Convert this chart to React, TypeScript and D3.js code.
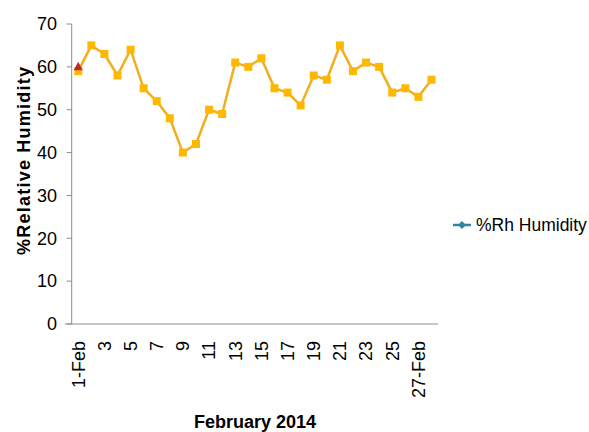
import React from "react";
import * as d3 from "d3";

const categories = [
  "1-Feb","2-Feb","3-Feb","4-Feb","5-Feb","6-Feb","7-Feb","8-Feb","9-Feb","10-Feb",
  "11-Feb","12-Feb","13-Feb","14-Feb","15-Feb","16-Feb","17-Feb","18-Feb","19-Feb","20-Feb",
  "21-Feb","22-Feb","23-Feb","24-Feb","25-Feb","26-Feb","27-Feb","28-Feb",
];
const humidity = [59,65,63,58,64,55,52,48,40,42,50,49,61,60,62,55,54,51,58,57,65,59,61,60,54,55,53,57];
const secondSeriesCats = ["1-Feb"];
const secondSeriesValues = [60];
const tickCats = ["1-Feb","3-Feb","5-Feb","7-Feb","9-Feb","11-Feb","13-Feb","15-Feb","17-Feb","19-Feb","21-Feb","23-Feb","25-Feb","27-Feb"];
const tickLabels = ["1-Feb","3","5","7","9","11","13","15","17","19","21","23","25","27-Feb"];
const yTicks = [0,10,20,30,40,50,60,70];
const legendLabel = "%Rh Humidity";
const yTitle = "%Relative Humidity";
const xTitle = "February 2014";

const FONT = "'Liberation Sans', Arial, sans-serif";

export default function App() {
  const left = 71.7, right = 438, top = 24, bottom = 324;
  const x = d3.scaleBand<string>().domain(categories).range([left, right]);
  const cx = (c: string) => (x(c) as number) + x.bandwidth() / 2;
  const y = d3.scaleLinear().domain([0, 70]).range([bottom, top]);
  const line = d3.line<number>().x((_, i) => cx(categories[i])).y((d) => y(d));
  const sq = 8;
  const lineColor = "#F2AE1C";
  const markColor = "#FFB800";

  return (
    <svg width={589} height={432} style={{ position: "absolute", left: 0, top: 0, background: "#fff" }} fontFamily={FONT}>
      {/* y axis */}
      <line x1={left} x2={left} y1={top} y2={bottom} stroke="#8c8c8c" strokeWidth={1} />
      {yTicks.map((t) => (
        <g key={t}>
          <line x1={left - 5} x2={left} y1={y(t)} y2={y(t)} stroke="#8c8c8c" strokeWidth={1} />
          <text x={57} y={y(t)} dy="0.35em" textAnchor="end" fontSize={18} fill="#000">{t}</text>
        </g>
      ))}
      {/* x axis */}
      <line x1={65} x2={right} y1={bottom} y2={bottom} stroke="#8c8c8c" strokeWidth={1} />
      {tickCats.map((c, i) => (
        <text key={c} transform={`translate(${cx(c)},341) rotate(-90)`} dy="0.35em" textAnchor="end" fontSize={18} fill="#000">
          {tickLabels[i]}
        </text>
      ))}
      {/* series */}
      <path d={line(humidity) || ""} fill="none" stroke={lineColor} strokeWidth={2.5} strokeLinejoin="round" />
      {humidity.map((v, i) => (
        <rect key={i} x={cx(categories[i]) - sq / 2} y={y(v) - sq / 2} width={sq} height={sq} fill={markColor} />
      ))}
      {secondSeriesValues.map((v, i) => {
        const px = cx(secondSeriesCats[i]);
        const py = y(v);
        return <path key={i} d={`M${px},${py - 5} L${px + 4.5},${py + 3.5} L${px - 4.5},${py + 3.5} Z`} fill="#C0262D" />;
      })}
      {/* titles */}
      <text transform={`translate(30,161) rotate(-90)`} textAnchor="middle" fontSize={18} fontWeight="bold" textLength={188} lengthAdjust="spacing" fill="#000">{yTitle}</text>
      <text x={255} y={427.5} textAnchor="middle" fontSize={18} fontWeight="bold" fill="#000">{xTitle}</text>
      {/* legend */}
      <line x1={453} x2={471} y1={225} y2={225} stroke="#31859C" strokeWidth={2.5} />
      <path d="M462,221 L466,225 L462,229 L458,225 Z" fill="#31859C" />
      <text x={476} y={231} fontSize={17.5} fill="#000">{legendLabel}</text>
    </svg>
  );
}
